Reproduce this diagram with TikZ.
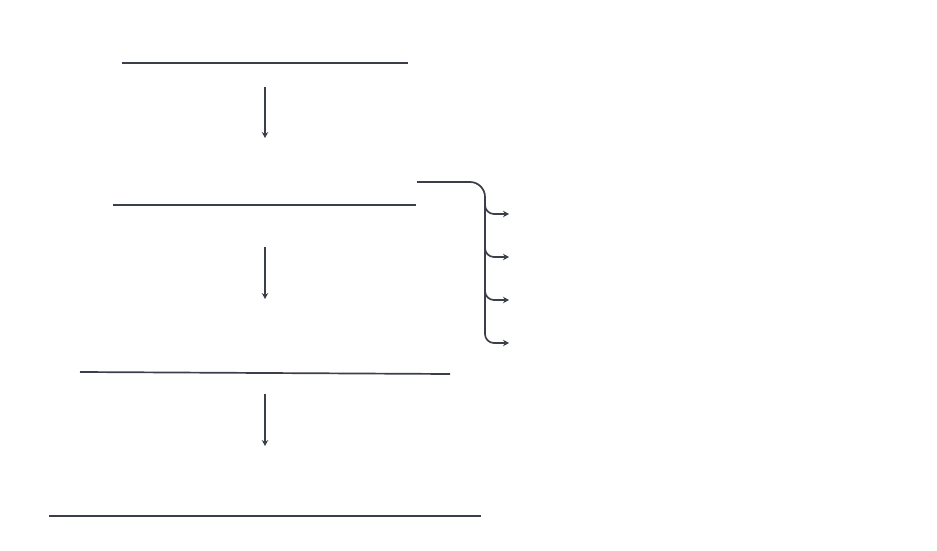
\documentclass[tikz,border=0pt]{standalone}
\usetikzlibrary{arrows.meta}
\definecolor{slate}{HTML}{3A3F4A}
\begin{document}
\begin{tikzpicture}[x=1pt,y=-1pt,
    rule/.style={slate,line width=1.7pt},
    flow/.style={slate,line width=1.7pt,-{Stealth[length=6pt,width=6.5pt]}}]
      \useasboundingbox (0,0) rectangle (937,551);
      % the four horizontal rules
      \draw[rule] (122,63) -- (408,63);
      \draw[rule] (113,205) -- (416,205);
      \draw[rule] (80,372) -- (450,374);
      \draw[rule] (49,516) -- (481,516);

      % downward arrows between the rules
      \coordinate (top1) at (265,87);  \coordinate (bot1) at (265,138);
      \coordinate (top2) at (265,247); \coordinate (bot2) at (265,299);
      \coordinate (top3) at (265,394); \coordinate (bot3) at (265,446);
      \draw[flow] (top1) -- (bot1);
      \draw[flow] (top2) -- (bot2);
      \draw[flow] (top3) -- (bot3);

      % bracket with four branches
      \coordinate (start) at (417,182);
      \coordinate (spine) at (485,330);
      \draw[rule,rounded corners=15pt] (start) -- (485,182) -- (spine);
      \foreach \y/\n in {214/1,257/2,300/3,343/4}{
        \coordinate (tip\n) at (509,\y);
        \draw[flow,rounded corners=9pt] (485,\y-14) |- (tip\n);
      }
    \end{tikzpicture}
\end{document}
